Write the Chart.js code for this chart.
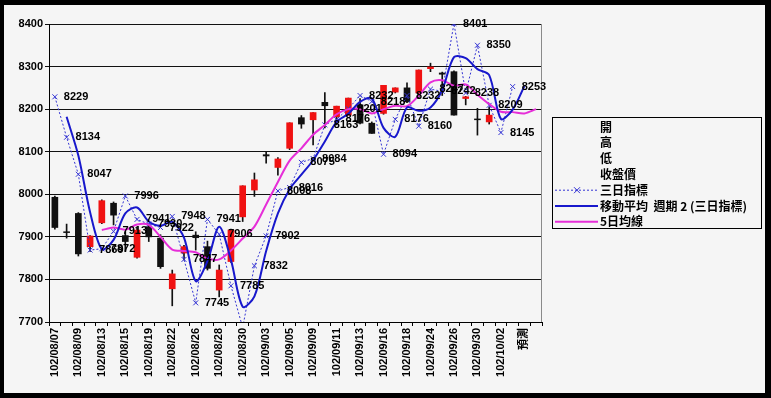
<!DOCTYPE html>
<html>
<head>
<meta charset="utf-8">
<script src="https://cdn.jsdelivr.net/npm/chart.js@4.4.0/dist/chart.umd.min.js"></script>
<style>
html, body { margin: 0; padding: 0; background: #000; }
canvas { display: block; }
</style>
</head>
<body>
<canvas id="stockChart" width="771" height="398"></canvas>
<script>
// trading days (only every other one is printed on the axis)
const dates = ['102/08/07','102/08/08','102/08/09','102/08/12','102/08/13','102/08/14','102/08/15','102/08/16',
  '102/08/19','102/08/20','102/08/22','102/08/23','102/08/26','102/08/27','102/08/28','102/08/29','102/08/30',
  '102/09/02','102/09/03','102/09/04','102/09/05','102/09/06','102/09/09','102/09/10','102/09/11','102/09/12',
  '102/09/13','102/09/14','102/09/16','102/09/17','102/09/18','102/09/23','102/09/24','102/09/25','102/09/26',
  '102/09/27','102/09/30','102/10/01','102/10/02','102/10/03','預測',''];

const openP  = [7993,7912,7955,7877,7933,7979,7903,7852,7924,7897,7778,7862,7904,7877,7775,7842,7947,8010,8093,8063,
  8108,8180,8175,8216,8182,8186,8210,8167,8190,8240,8250,8238,8295,8285,8288,8225,8177,8170,null,null,null,null];
const highP  = [7996,7930,7957,7903,7987,7982,7912,7922,7928,7905,7822,7880,7912,7890,7834,7918,8020,8050,8100,8086,
  8168,8185,8192,8239,8207,8226,8225,8170,8256,8250,8262,8292,8308,8287,8290,8230,8202,8205,null,null,null,null];
const lowP   = [7918,7897,7855,7866,7931,7928,7866,7850,7889,7826,7738,7846,7869,7822,7759,7840,7936,7995,8073,8045,
  8105,8155,8116,8156,8163,8186,8165,8143,8188,8238,8215,8225,8288,8232,8186,8210,8139,8165,null,null,null,null];
const closeP = [7922,7910,7860,7902,7985,7951,7889,7916,7900,7830,7813,7877,7898,7826,7822,7916,8020,8034,8090,8083,
  8168,8165,8192,8208,8207,8226,8167,8143,8256,8250,8217,8292,8299,8282,8186,8229,8175,8186,null,null,null,null];

// 三日指標
const triIndex = [8229,8134,8047,7869,7872,7913,7996,7941,7930,7922,7948,7847,7745,7941,7906,7785,7687,7832,7902,8008,
  8016,8075,8084,8163,8176,8201,8232,8218,8094,8176,8232,8160,8247,8242,8401,8238,8350,8209,8145,8253,null,null];
// 移動平均 週期 2 (三日指標)
const triAvg = [null,8182,8091,7958,7871,7893,7955,7969,7936,7926,7935,7898,7796,7843,7924,7846,7736,7760,7867,7955,
  8012,8046,8080,8124,8170,8189,8217,8225,8156,8135,8204,8196,8204,8245,8322,8320,8294,8280,8177,8199,8254,null];
// 5日均線
const ma5 = [null,null,null,null,7916,7922,7917,7929,7928,7900,7870,7867,7864,7849,7847,7868,7896,7924,7976,8029,
  8079,8108,8140,8163,8188,8200,8200,8190,8200,8208,8207,8232,8263,8268,8255,8258,8234,8212,8194,8193,8190,8200];

const yTicks = [7700, 8400, 100]; // min, max, step

const legendNames = ['開', '高', '低', '收盤價', '三日指標', '移動平均  週期 2 (三日指標)', '5日均線'];

const RED = '#f01212';
const DARK = '#111111';
const BLUE = '#1818cc';
const DOT_BLUE = '#3434d4';
const PINK = '#e62ed8';
const NUM_FONT = 'bold 11px "Liberation Sans", "Noto Sans CJK TC"';

const bodies = openP.map((o, i) => o == null ? null : [o, closeP[i]]);
const wicks = lowP.map((l, i) => l == null ? null : [l, highP[i]]);
const bodyColors = openP.map((o, i) => closeP[i] >= o ? RED : DARK);

const background = {
    id: 'background',
    beforeDraw(chart) {
        const ctx = chart.ctx;
        ctx.save();
        ctx.fillStyle = '#000';
        ctx.fillRect(0, 0, chart.width, chart.height);
        ctx.fillStyle = '#f5f5f5';
        ctx.fillRect(4, 5, 761, 388);
        ctx.restore();
    },
    beforeDatasetsDraw(chart) {
        const a = chart.chartArea, ctx = chart.ctx;
        ctx.save();
        ctx.strokeStyle = '#8a8a8a';
        ctx.lineWidth = 1;
        ctx.beginPath();
        ctx.moveTo(Math.round(a.right) - 0.5, a.top);
        ctx.lineTo(Math.round(a.right) - 0.5, a.bottom);
        ctx.stroke();
        ctx.restore();
    }
};

const pointLabels = {
    id: 'pointLabels',
    afterDatasetsDraw(chart) {
        const meta = chart.getDatasetMeta(2);
        const a = chart.chartArea, ctx = chart.ctx;
        ctx.save();
        ctx.font = NUM_FONT;
        ctx.fillStyle = '#000';
        ctx.textBaseline = 'middle';
        meta.data.forEach((pt, i) => {
            if (triIndex[i] == null || pt.y > a.bottom || pt.y < a.top - 1) return;
            ctx.fillText(String(triIndex[i]), pt.x + 9, pt.y);
        });
        ctx.restore();
    }
};

const boxLegend = {
    id: 'boxLegend',
    afterDraw(chart) {
        const ctx = chart.ctx;
        const x0 = 552, y0 = 117, w = 209, h = 111;
        ctx.save();
        ctx.strokeStyle = '#000';
        ctx.lineWidth = 1;
        ctx.strokeRect(x0 + 0.5, y0 + 0.5, w, h);
        ctx.font = 'bold 12px "Noto Sans CJK TC"';
        ctx.fillStyle = '#000';
        ctx.textBaseline = 'middle';
        legendNames.forEach((name, k) => {
            const y = 127 + k * 15.8;
            if (k === 4) {
                ctx.strokeStyle = DOT_BLUE;
                ctx.setLineDash([2, 2]);
                ctx.beginPath(); ctx.moveTo(555, y); ctx.lineTo(598, y); ctx.stroke();
                ctx.setLineDash([]);
                ctx.beginPath();
                ctx.moveTo(574, y - 3); ctx.lineTo(580, y + 3);
                ctx.moveTo(580, y - 3); ctx.lineTo(574, y + 3);
                ctx.stroke();
            } else if (k === 5 || k === 6) {
                ctx.strokeStyle = k === 5 ? BLUE : PINK;
                ctx.lineWidth = 2;
                ctx.beginPath(); ctx.moveTo(555, y); ctx.lineTo(598, y); ctx.stroke();
                ctx.lineWidth = 1;
            }
            ctx.fillText(name, 600, y);
        });
        ctx.restore();
    }
};

const ctx = document.getElementById('stockChart').getContext('2d');
window.stockChart = new Chart(ctx, {
    type: 'bar',
    data: {
        labels: dates,
        datasets: [
            { label: 'wick', data: wicks, backgroundColor: DARK, barThickness: 1, grouped: false, order: 3 },
            { label: 'body', data: bodies, backgroundColor: bodyColors, barThickness: 6, grouped: false, order: 2 },
            {
                type: 'line', label: legendNames[4], data: triIndex,
                borderColor: DOT_BLUE, borderWidth: 1, borderDash: [2, 2],
                pointStyle: 'crossRot', pointRadius: 3.5, pointBorderColor: DOT_BLUE, pointBorderWidth: 1,
                tension: 0, order: 1
            },
            {
                type: 'line', label: legendNames[5], data: triAvg,
                borderColor: BLUE, borderWidth: 2, pointRadius: 0, tension: 0.3, order: 0
            },
            {
                type: 'line', label: legendNames[6], data: ma5,
                borderColor: PINK, borderWidth: 2, pointRadius: 0, tension: 0.3, order: 0
            }
        ]
    },
    options: {
        responsive: false,
        animation: false,
        layout: { padding: { top: 24, right: 229, bottom: 0, left: 0 } },
        plugins: { legend: { display: false }, tooltip: { enabled: false } },
        scales: {
            x: {
                offset: true,
                grid: { display: true, drawOnChartArea: false, drawTicks: true, tickLength: 4, color: '#000', offset: true },
                border: { color: '#000' },
                ticks: {
                    autoSkip: false, minRotation: 90, maxRotation: 90, padding: 2,
                    color: '#000', font: { family: '"Liberation Sans", "Noto Sans CJK TC"', size: 11, weight: 'bold' },
                    callback: function(v, i) { return i % 2 === 0 ? this.getLabelForValue(v) : ''; }
                },
                afterFit: function(scale) { scale.height = 76; }
            },
            y: {
                min: yTicks[0], max: yTicks[1],
                grid: { color: '#111', lineWidth: 1, drawTicks: true, tickLength: 4 },
                border: { color: '#000' },
                ticks: {
                    stepSize: yTicks[2], padding: 2, color: '#000',
                    font: { family: '"Liberation Sans"', size: 11, weight: 'bold' },
                    callback: v => String(v)
                },
                afterFit: function(scale) { scale.width = 49; }
            }
        }
    },
    plugins: [background, pointLabels, boxLegend]
});
</script>
</body>
</html>
